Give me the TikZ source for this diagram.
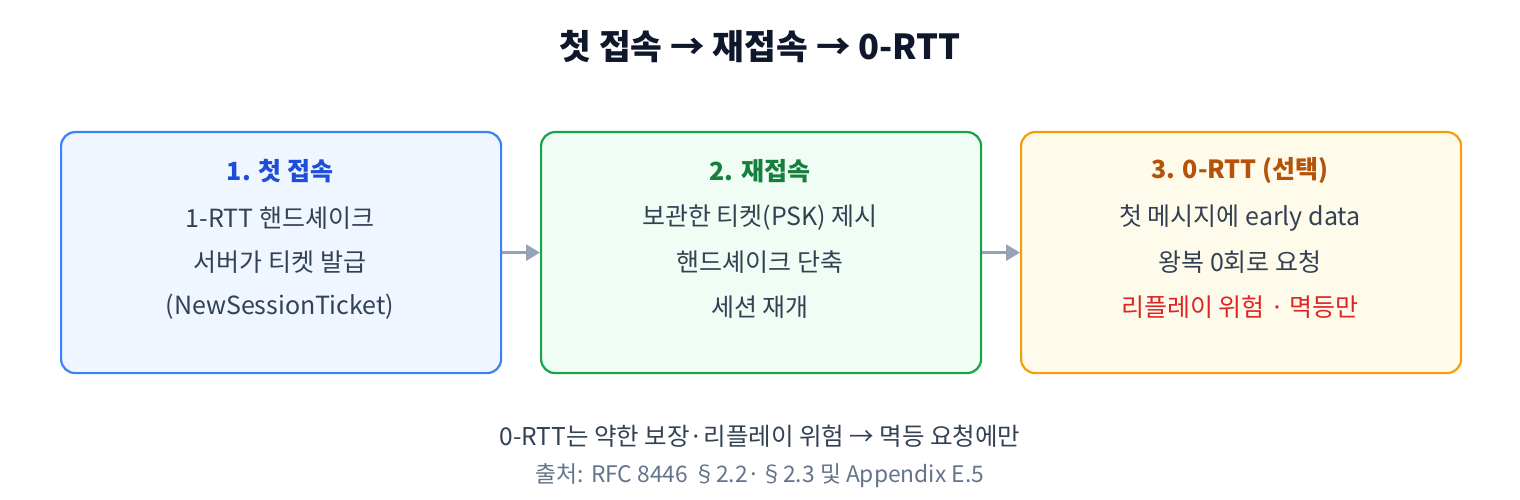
\documentclass[tikz,border=0pt]{standalone}
\usepackage{fontspec}
\setmainfont{Noto Sans CJK KR}
\usetikzlibrary{arrows.meta}
\definecolor{txt}{HTML}{334155}
\definecolor{src}{HTML}{64748B}
\definecolor{arr}{HTML}{94A3B8}
\definecolor{ttl}{HTML}{0F172A}
\begin{document}
\begin{tikzpicture}[x=1pt,y=-1pt,
 box/.style={draw,line width=2.2pt,rounded corners=14pt,minimum width=440pt,minimum height=241pt,anchor=north west},
 hd/.style={font=\fontsize{25}{28}\selectfont\bfseries},
 bd/.style={font=\fontsize{25}{28}\selectfont,text=txt},
 conn/.style={draw=arr,line width=3pt,-{Triangle[length=14pt,width=16pt]}}]
\useasboundingbox (0,0) rectangle (1520,500);
\node[font=\fontsize{34.5}{38}\selectfont\bfseries,text=ttl] (title) at (760,47) {첫 접속 → 재접속 → 0-RTT};
\node[box,draw={rgb,255:red,59;green,130;blue,246},fill={rgb,255:red,239;green,246;blue,255}] (b1) at (60,131) {};
\node[box,draw={rgb,255:red,22;green,163;blue,74},fill={rgb,255:red,240;green,253;blue,244}] (b2) at (540,131) {};
\node[box,draw={rgb,255:red,245;green,158;blue,11},fill={rgb,255:red,255;green,251;blue,235}] (b3) at (1020,131) {};
\node[hd,text={rgb,255:red,29;green,78;blue,216}] (h1) at (280,171) {1. 첫 접속};
\node[bd] (a1) at (280,218) {1-RTT 핸드셰이크};
\node[bd] (a2) at (280,262) {서버가 티켓 발급};
\node[bd] (a3) at (280,307) {(NewSessionTicket)};
\node[hd,text={rgb,255:red,21;green,128;blue,61}] (h2) at (760,171) {2. 재접속};
\node[bd] (c1) at (760,218) {보관한 티켓(PSK) 제시};
\node[bd] (c2) at (760,262) {핸드셰이크 단축};
\node[bd] (c3) at (760,307) {세션 재개};
\node[hd,text={rgb,255:red,180;green,83;blue,9}] (h3) at (1240,171) {3. 0-RTT (선택)};
\node[bd] (d1) at (1240,218) {첫 메시지에 early data};
\node[bd] (d2) at (1240,262) {왕복 0회로 요청};
\node[bd,text={rgb,255:red,220;green,38;blue,38}] (d3) at (1240,307) {리플레이 위험 · 멱등만};
\draw[conn] (b1.east) -- (b2.west);
\draw[conn] (b2.east) -- (b3.west);
\node[bd,font=\fontsize{24.5}{28}\selectfont] (n1) at (760,436) {0-RTT는 약한 보장·리플레이 위험 → 멱등 요청에만};
\node[font=\fontsize{22.8}{26}\selectfont,text=src] (n2) at (760,476) {출처: RFC 8446 §2.2·§2.3 및 Appendix E.5};
\end{tikzpicture}
\end{document}
